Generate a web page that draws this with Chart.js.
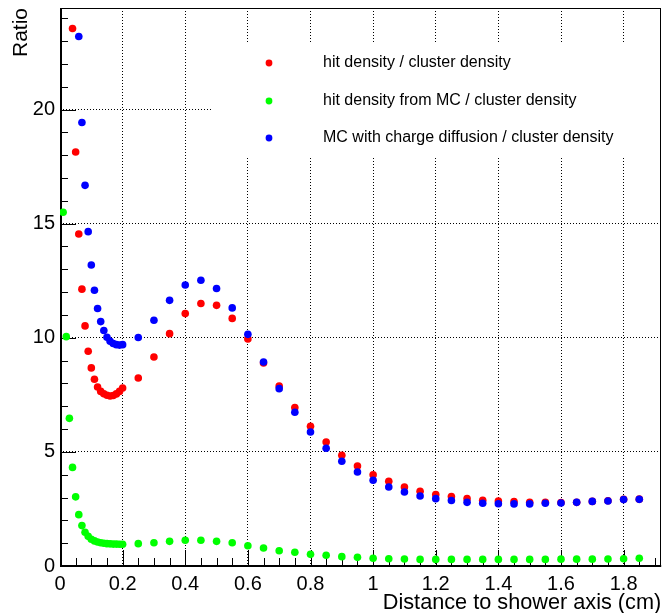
<!DOCTYPE html>
<html>
<head>
<meta charset="utf-8">
<title>Ratio vs distance to shower axis</title>
<script src="https://cdn.jsdelivr.net/npm/chart.js@4.4.1/dist/chart.umd.min.js"></script>
<style>
  html, body { margin: 0; padding: 0; background: #fff; }
</style>
</head>
<body>
<canvas id="ratioChart" width="665" height="613"></canvas>
<script>
var fontFamily = '"Liberation Sans", Arial, Helvetica, sans-serif';

// distance to shower axis (cm)
var distance = [0.01, 0.02, 0.03, 0.04, 0.05, 0.06, 0.07, 0.08, 0.09, 0.10,
                0.11, 0.12, 0.13, 0.14, 0.15, 0.16, 0.17, 0.18, 0.19, 0.20,
                0.25, 0.30, 0.35, 0.40, 0.45, 0.50, 0.55, 0.60, 0.65, 0.70,
                0.75, 0.80, 0.85, 0.90, 0.95, 1.00, 1.05, 1.10, 1.15, 1.20,
                1.25, 1.30, 1.35, 1.40, 1.45, 1.50, 1.55, 1.60, 1.65, 1.70,
                1.75, 1.80, 1.85];

// hit density / cluster density (first points are above the frame)
var hitRatio = [null, null, null, 23.55, 18.14, 14.55, 12.13, 10.52, 9.41, 8.68,
                8.18, 7.84, 7.65, 7.55, 7.48, 7.45, 7.47, 7.54, 7.65, 7.80,
                8.24, 9.16, 10.18, 11.06, 11.50, 11.42, 10.85, 9.95, 8.90, 7.89,
                6.94, 6.12, 5.43, 4.85, 4.38, 4.00, 3.71, 3.46, 3.27, 3.13,
                3.04, 2.95, 2.88, 2.85, 2.82, 2.79, 2.79, 2.78, 2.79, 2.83,
                2.86, 2.92, 2.93];

// hit density from MC / cluster density
var mcRatio = [15.50, 10.05, 6.47, 4.32, 3.03, 2.25, 1.77, 1.48, 1.30, 1.17,
               1.10, 1.05, 1.02, 1.00, 0.98, 0.97, 0.96, 0.96, 0.95, 0.95,
               0.98, 1.02, 1.08, 1.13, 1.13, 1.08, 1.02, 0.89, 0.79, 0.67,
               0.60, 0.51, 0.47, 0.41, 0.38, 0.34, 0.32, 0.31, 0.29, 0.29,
               0.29, 0.29, 0.29, 0.29, 0.29, 0.29, 0.29, 0.30, 0.30, 0.30,
               0.31, 0.32, 0.34];

// MC with charge diffusion / cluster density
var diffRatio = [null, null, null, null, null, 23.20, 19.43, 16.68, 14.65, 13.19,
                 12.08, 11.28, 10.71, 10.32, 10.02, 9.85, 9.75, 9.70, 9.68, 9.70,
                 10.01, 10.77, 11.64, 12.31, 12.52, 12.16, 11.31, 10.15, 8.94, 7.77,
                 6.74, 5.87, 5.16, 4.59, 4.12, 3.76, 3.46, 3.24, 3.07, 2.95,
                 2.87, 2.79, 2.75, 2.73, 2.72, 2.72, 2.75, 2.76, 2.79, 2.83,
                 2.85, 2.91, 2.92];

var legendLabels = ['hit density / cluster density',
                    'hit density from MC / cluster density',
                    'MC with charge diffusion / cluster density'];
var seriesColors = ['#ff0000', '#00ff00', '#0000ff'];

var xTickValues = [0, 0.2, 0.4, 0.6, 0.8, 1, 1.2, 1.4, 1.6, 1.8];
var xTickLabels = ['0', '0.2', '0.4', '0.6', '0.8', '1', '1.2', '1.4', '1.6', '1.8'];
var yTickValues = [0, 5, 10, 15, 20];
var yTickLabels = ['0', '5', '10', '15', '20'];
var xMax = 1.92;
var yMax = 24.45;

function toPoints(values) {
    var pts = [];
    for (var i = 0; i < distance.length; i++) {
        if (values[i] !== null) pts.push({x: distance[i], y: values[i]});
    }
    return pts;
}

function fixedTicks(values) {
    return function(scale) {
        scale.ticks = values.map(function(v) { return {value: v}; });
    };
}

// ROOT style frame: inner ticks, white legend box, thicker left/bottom axis
var rootFrame = {
    id: 'rootFrame',
    beforeDatasetsDraw: function(chart) {
        var ctx = chart.ctx, a = chart.chartArea;
        var xs = chart.scales.x, ys = chart.scales.y;
        ctx.save();

        ctx.fillStyle = '#fff';
        ctx.fillRect(213, 43, a.right - 214, 113);

        ctx.strokeStyle = '#000';
        ctx.lineWidth = 1;
        ctx.beginPath();
        var i, p, len;
        for (i = 0; i * 0.05 <= xMax; i++) {
            p = Math.round(xs.getPixelForValue(i * 0.05)) + 0.5;
            len = (i % 4 === 0) ? 16 : 8;
            ctx.moveTo(p, a.bottom);
            ctx.lineTo(p, a.bottom - len);
        }
        for (i = 0; i <= yMax; i++) {
            p = Math.round(ys.getPixelForValue(i)) + 0.5;
            len = (i % 5 === 0) ? 16 : 8;
            ctx.moveTo(a.left, p);
            ctx.lineTo(a.left + len, p);
        }
        ctx.stroke();

        ctx.strokeRect(Math.round(a.left) + 0.5, Math.round(a.top) + 0.5,
                       Math.round(a.right - a.left) - 1, Math.round(a.bottom - a.top) - 1);
        ctx.lineWidth = 2;
        ctx.beginPath();
        ctx.moveTo(Math.round(a.left) + 1, a.top);
        ctx.lineTo(Math.round(a.left) + 1, Math.round(a.bottom));
        ctx.lineTo(a.right, Math.round(a.bottom));
        ctx.stroke();
        ctx.restore();
    },
    afterDatasetsDraw: function(chart) {
        var ctx = chart.ctx;
        var rows = [63, 101, 138];
        ctx.save();
        ctx.font = '16px ' + fontFamily;
        ctx.textBaseline = 'middle';
        ctx.textAlign = 'left';
        for (var i = 0; i < legendLabels.length; i++) {
            ctx.fillStyle = seriesColors[i];
            ctx.beginPath();
            ctx.arc(269, rows[i], 3.4, 0, Math.PI * 2);
            ctx.fill();
            ctx.fillStyle = '#000';
            ctx.fillText(legendLabels[i], 323, rows[i]);
        }
        ctx.restore();
    }
};

var ctx = document.getElementById('ratioChart');
var ratioChart = new Chart(ctx, {
    type: 'scatter',
    data: {
        datasets: [
            { label: legendLabels[0], data: toPoints(hitRatio), backgroundColor: seriesColors[0], order: 1 },
            { label: legendLabels[1], data: toPoints(mcRatio), backgroundColor: seriesColors[1], order: 2 },
            { label: legendLabels[2], data: toPoints(diffRatio), backgroundColor: seriesColors[2], order: 0 }
        ]
    },
    options: {
        responsive: false,
        animation: false,
        devicePixelRatio: 1,
        events: [],
        layout: { padding: { top: 8, right: 2, left: 0, bottom: 0 } },
        elements: { point: { radius: 3.8, borderWidth: 0, hoverRadius: 3.8 } },
        plugins: { legend: { display: false }, tooltip: { enabled: false } },
        scales: {
            x: {
                type: 'linear',
                min: 0,
                max: xMax,
                afterBuildTicks: fixedTicks(xTickValues),
                afterFit: function(s) {
                    s.height = 47;
                    s.paddingLeft = 0;
                    s.paddingRight = 0;
                },
                ticks: {
                    callback: function(v, i) { return xTickLabels[i]; },
                    font: { family: fontFamily, size: 20 },
                    color: '#000',
                    padding: 6,
                    maxRotation: 0,
                    autoSkip: false
                },
                grid: { color: '#000', lineWidth: 1, drawTicks: false },
                border: { display: false, dash: [1, 2] },
                title: {
                    display: true,
                    text: 'Distance to shower axis (cm)',
                    align: 'end',
                    color: '#000',
                    font: { family: fontFamily, size: 21.7 },
                    padding: { top: 0, bottom: -3 }
                }
            },
            y: {
                type: 'linear',
                min: 0,
                max: yMax,
                afterBuildTicks: fixedTicks(yTickValues),
                afterFit: function(s) {
                    s.width = 60;
                    s.paddingTop = 0;
                    s.paddingBottom = 0;
                },
                ticks: {
                    callback: function(v, i) { return yTickLabels[i]; },
                    font: { family: fontFamily, size: 20 },
                    color: '#000',
                    padding: 5
                },
                grid: { color: '#000', lineWidth: 1, drawTicks: false },
                border: { display: false, dash: [1, 2] },
                title: {
                    display: true,
                    text: 'Ratio',
                    align: 'end',
                    color: '#000',
                    font: { family: fontFamily, size: 21 },
                    padding: { top: 9, bottom: 0 }
                }
            }
        }
    },
    plugins: [rootFrame]
});
</script>
</body>
</html>
